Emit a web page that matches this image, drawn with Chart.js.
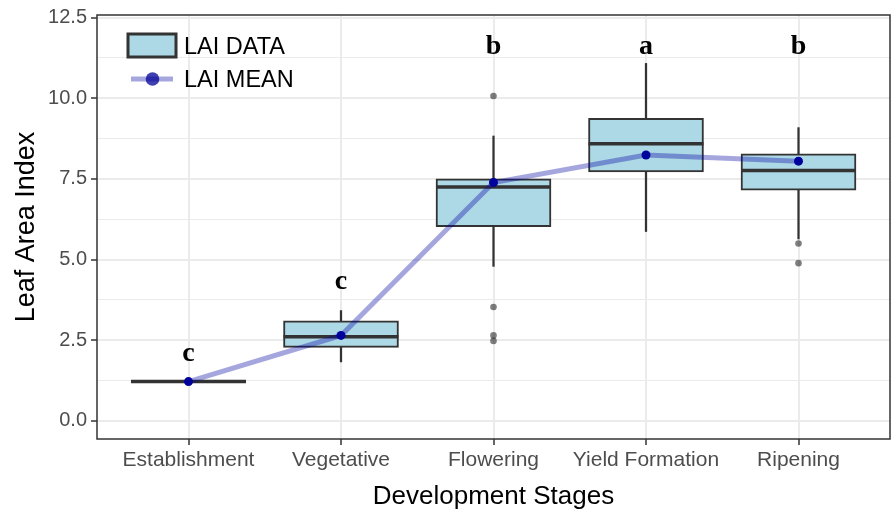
<!DOCTYPE html>
<html><head><meta charset="utf-8">
<script src="https://cdn.jsdelivr.net/npm/chart.js@4.4.1/dist/chart.umd.min.js"></script>
<style>html,body{margin:0;padding:0;background:#fff;overflow:hidden;} #wrap{width:891px;height:513px;position:relative;}</style>
</head><body><div id="wrap"><canvas id="c"></canvas></div>
<script>
// ---- data ----
const stages = ['Establishment', 'Vegetative', 'Flowering', 'Yield Formation', 'Ripening'];
const q1 = [1.22, 2.28, 6.02, 7.72, 7.15];
const median = [1.22, 2.61, 7.25, 8.59, 7.76];
const q3 = [1.22, 3.10, 7.50, 9.38, 8.28];
const whiskerLow = [1.22, 1.83, 4.79, 5.87, 5.64];
const whiskerHigh = [1.22, 3.42, 8.83, 11.08, 9.09];
const means = [1.22, 2.65, 7.39, 8.24, 8.05];
const outlierStage = [2, 2, 2, 2, 4, 4];
const outlierValue = [10.07, 3.53, 2.65, 2.48, 5.50, 4.89];
const letters = ['c', 'c', 'b', 'a', 'b'];
const letterY = [1.85, 4.09, 11.37, 11.37, 11.37];
const yMajorTicks = [0, 2.5, 5, 7.5, 10, 12.5];
const yMinorTicks = [1.25, 3.75, 6.25, 8.75, 11.25];

const SANS = '"Liberation Sans", Arial, sans-serif';
const isMajor = v => yMajorTicks.some(t => Math.abs(t - v) < 1e-9);

const panelPlugin = {
  id: 'panel',
  afterDraw(chart) {
    const {ctx, chartArea: a} = chart;
    ctx.save();
    ctx.strokeStyle = '#333333';
    ctx.lineWidth = 1.5;
    ctx.strokeRect(a.left, a.top, a.right - a.left, a.bottom - a.top);
    ctx.restore();
  }
};

const medianPlugin = {
  id: 'medians',
  afterDatasetDraw(chart, args) {
    if (args.index !== 1) return;
    const meta = chart.getDatasetMeta(1);
    const ys = chart.scales.y;
    const ctx = chart.ctx;
    ctx.save();
    ctx.strokeStyle = '#333333';
    ctx.lineWidth = 3.5;
    meta.data.forEach((bar, i) => {
      const y = ys.getPixelForValue(median[i]);
      const half = bar.width / 2;
      ctx.beginPath();
      ctx.moveTo(bar.x - half, y);
      ctx.lineTo(bar.x + half, y);
      ctx.stroke();
    });
    ctx.restore();
  }
};

const letterPlugin = {
  id: 'letters',
  afterDatasetsDraw(chart) {
    const ctx = chart.ctx, xs = chart.scales.x, ys = chart.scales.y;
    ctx.save();
    ctx.fillStyle = '#000';
    ctx.font = 'bold 28px "Liberation Serif", "Times New Roman", serif';
    ctx.textAlign = 'center';
    ctx.textBaseline = 'alphabetic';
    letters.forEach((t, i) => ctx.fillText(t, xs.getPixelForValue(i), ys.getPixelForValue(letterY[i])));
    ctx.restore();
  }
};

const legendPlugin = {
  id: 'customLegend',
  afterDraw(chart) {
    const ctx = chart.ctx;
    ctx.save();
    ctx.fillStyle = '#ADD8E6';
    ctx.fillRect(128, 34, 48, 23);
    ctx.strokeStyle = '#333333';
    ctx.lineWidth = 3;
    ctx.strokeRect(128, 34, 48, 23);
    ctx.strokeStyle = 'rgba(0,0,160,0.35)';
    ctx.lineWidth = 5;
    ctx.beginPath(); ctx.moveTo(131, 79); ctx.lineTo(173, 79); ctx.stroke();
    ctx.fillStyle = 'rgba(0,0,150,0.75)';
    ctx.beginPath(); ctx.arc(152.5, 79, 6.8, 0, Math.PI * 2); ctx.fill();
    ctx.fillStyle = '#000';
    ctx.font = '23.5px ' + SANS;
    ctx.textAlign = 'left';
    ctx.textBaseline = 'alphabetic';
    ctx.fillText('LAI DATA', 184, 54);
    ctx.fillText('LAI MEAN', 184, 87);
    ctx.restore();
  }
};

new Chart(document.getElementById('c'), {
  type: 'bar',
  data: {
    datasets: [
      {
        type: 'bar', label: 'whiskers',
        data: stages.map((s, i) => ({x: i, y: [whiskerLow[i], whiskerHigh[i]]})),
        backgroundColor: '#333333', borderWidth: 0, barThickness: 1.6, grouped: false, order: 5
      },
      {
        type: 'bar', label: 'LAI DATA',
        data: stages.map((s, i) => ({x: i, y: [q1[i], q3[i]]})),
        backgroundColor: '#ADD8E6', borderColor: '#333333', borderWidth: 2, borderSkipped: false,
        barThickness: 115, grouped: false, order: 4
      },
      {
        type: 'scatter', label: 'outliers',
        data: outlierStage.map((s, k) => ({x: s, y: outlierValue[k]})),
        pointRadius: 3.3, pointBackgroundColor: 'rgba(0,0,0,0.5)', pointBorderWidth: 0, order: 3
      },
      {
        type: 'line', label: 'LAI MEAN',
        data: means.map((m, i) => ({x: i, y: m})),
        borderColor: 'rgba(0,0,160,0.35)', borderWidth: 5, tension: 0,
        pointRadius: 4.5, pointBackgroundColor: '#00009C', pointBorderWidth: 0, order: 1
      }
    ]
  },
  options: {
    responsive: true, maintainAspectRatio: false, animation: false,
    layout: {autoPadding: false, padding: {top: 15, right: 1, left: 0, bottom: 0}},
    plugins: {legend: {display: false}, tooltip: {enabled: false}},
    scales: {
      x: {
        type: 'linear', min: -0.6, max: 4.6, offset: false,
        afterBuildTicks(s) { s.ticks = stages.map((_, i) => ({value: i})); },
        afterFit(s) { s.height = 74; s.paddingLeft = 0; s.paddingRight = 0; },
        grid: {offset: false, color: '#EBEBEB', lineWidth: 2, tickColor: '#333333', tickLength: 6, tickWidth: 1.5},
        border: {display: false},
        ticks: {
          callback: v => stages[v], color: '#4D4D4D', font: {family: SANS, size: 21},
          padding: 3, maxRotation: 0, autoSkip: false
        },
        title: {display: true, text: 'Development Stages', color: '#000', font: {family: SANS, size: 26}, padding: {top: 0, bottom: 1}}
      },
      y: {
        type: 'linear', min: -0.56, max: 12.58,
        afterBuildTicks(s) {
          s.ticks = [...yMajorTicks, ...yMinorTicks].sort((a, b) => a - b).map(v => ({value: v}));
        },
        afterFit(s) { s.width = 97; s.paddingTop = 0; s.paddingBottom = 0; },
        grid: {
          color: '#EBEBEB',
          lineWidth: c => (c.tick && isMajor(c.tick.value)) ? 2 : 1,
          tickColor: c => (c.tick && isMajor(c.tick.value)) ? '#333333' : 'rgba(0,0,0,0)',
          tickLength: 6, tickWidth: 1.5
        },
        border: {display: false},
        ticks: {
          callback: v => isMajor(v) ? v.toFixed(1) : '',
          color: '#4D4D4D', font: {family: SANS, size: 20}, padding: 4, autoSkip: false
        },
        title: {display: true, text: 'Leaf Area Index', color: '#000', font: {family: SANS, size: 27}, padding: {top: 10, bottom: 0}}
      }
    }
  },
  plugins: [panelPlugin, medianPlugin, letterPlugin, legendPlugin]
});
</script>
</body></html>
